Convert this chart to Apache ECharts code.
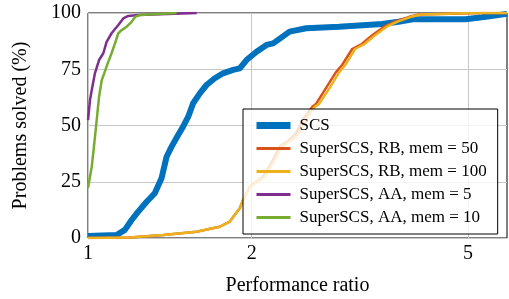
<!DOCTYPE html>
<html>
<head>
<meta charset="utf-8">
<script src="https://cdn.jsdelivr.net/npm/echarts@6/dist/echarts.min.js"></script>
<style>
  html, body { margin: 0; padding: 0; background: #fff; }
  #chart { width: 509px; height: 299px; }
</style>
</head>
<body>
<div id="chart"></div>
<script>
// performance ratio (x) / problems solved in % (y)
const scsRatio = [1.0, 1.129, 1.169, 1.203, 1.237, 1.282, 1.327, 1.366, 1.395, 1.425, 1.465, 1.496, 1.529, 1.561, 1.606, 1.652, 1.711, 1.772, 1.849, 1.902, 1.957, 2.042, 2.130, 2.191, 2.349, 2.520, 2.897, 3.476, 3.726, 3.956, 4.950, 5.309, 5.9];
const scsSolved = [0.9, 1.3, 3.6, 8.0, 11.7, 16.1, 19.9, 26.7, 36.1, 40.6, 45.8, 49.5, 53.9, 59.9, 64.3, 68.0, 71.0, 73.2, 74.7, 75.4, 79.1, 82.8, 85.8, 86.5, 91.7, 93.2, 93.9, 95.1, 96.1, 97.2, 97.2, 98.1, 99.6];

const rb50Ratio = [1.0, 1.194, 1.375, 1.583, 1.747, 1.823, 1.861, 1.902, 1.929, 1.984, 2.100, 2.191, 2.254, 2.349, 2.415, 2.482, 2.589, 2.626, 2.738, 2.855, 2.936, 3.062, 3.193, 3.329, 3.520, 3.679, 3.899, 4.066, 5.302, 5.9];
const rb50Solved = [0, 0.2, 1.3, 2.8, 5.0, 7.3, 10.2, 13.2, 16.9, 22.8, 27.2, 34.7, 40.6, 43.6, 46.5, 52.4, 58.4, 59.5, 66.5, 73.5, 77.0, 84.0, 86.3, 90.0, 94.2, 96.3, 98.3, 99.3, 100, 100];

const rb100Ratio = [1.0, 1.194, 1.375, 1.583, 1.747, 1.823, 1.861, 1.902, 1.929, 1.990, 2.110, 2.205, 2.270, 2.370, 2.440, 2.510, 2.615, 2.660, 2.780, 2.895, 2.975, 3.100, 3.230, 3.370, 3.560, 3.720, 3.930, 4.100, 5.091, 5.9];
const rb100Solved = [0, 0.2, 1.3, 2.8, 5.0, 7.3, 10.2, 13.2, 16.9, 22.8, 27.2, 34.7, 40.6, 43.6, 46.5, 52.4, 58.4, 59.5, 66.5, 73.5, 77.0, 84.0, 86.3, 90.0, 94.2, 96.3, 98.3, 99.3, 100, 100];

const aa5Ratio = [1.0, 1.0085, 1.016, 1.030, 1.048, 1.067, 1.082, 1.105, 1.137, 1.161, 1.186, 1.237, 1.585];
const aa5Solved = [52.4, 61.3, 65.8, 73.3, 79.1, 82.1, 87.2, 91.0, 94.7, 97.6, 98.7, 99.1, 100];

const aa10Ratio = [1.0, 1.016, 1.027, 1.0375, 1.048, 1.060, 1.071, 1.087, 1.105, 1.121, 1.137, 1.153, 1.178, 1.203, 1.223, 1.246, 1.455];
const aa10Solved = [22.2, 31.7, 42.1, 52.4, 62.8, 70.2, 73.2, 77.6, 82.1, 86.5, 91.0, 92.4, 93.9, 96.1, 98.4, 99.1, 100];

const seriesNames = ['SCS', 'SuperSCS, RB, mem = 50', 'SuperSCS, RB, mem = 100', 'SuperSCS, AA, mem = 5', 'SuperSCS, AA, mem = 10'];
const seriesColors = ['#0072BD', '#D95319', '#EDB120', '#7E2F8E', '#77AC30'];
const seriesWidths = [6, 2.5, 2.5, 2.5, 2.5];
const legendWidths = [7, 3, 3, 3, 3];
const xTicks = [1, 2, 5];

const xs = [scsRatio, rb50Ratio, rb100Ratio, aa5Ratio, aa10Ratio];
const ys = [scsSolved, rb50Solved, rb100Solved, aa5Solved, aa10Solved];

const font = 'Liberation Serif';
const chart = echarts.init(document.getElementById('chart'), null, { renderer: 'canvas' });

chart.setOption({
  animation: false,
  grid: {
    left: 88, right: 2, top: 13, bottom: 61,
    outerBoundsMode: 'none',
    show: true, borderColor: '#000', borderWidth: 1
  },
  legend: {
    orient: 'vertical',
    left: 243, top: 109,
    padding: [8, 11, 8, 10],
    itemGap: 6,
    itemWidth: 34,
    itemHeight: 14,
    backgroundColor: 'rgba(255,255,255,0.8)',
    borderColor: '#000',
    borderWidth: 1,
    borderRadius: 0,
    textStyle: { fontFamily: font, fontSize: 17, color: '#000', padding: [0, 0, 0, 4] },
    data: seriesNames.map((n, i) => ({
      name: n,
      itemStyle: { opacity: 0 },
      lineStyle: { width: legendWidths[i], color: seriesColors[i] }
    }))
  },
  xAxis: {
    type: 'log',
    min: 1, max: 5.9,
    name: 'Performance ratio',
    nameLocation: 'middle',
    nameGap: 38,
    nameTextStyle: { fontFamily: font, fontSize: 20, color: '#000' },
    axisLine: { show: false },
    axisTick: { show: false, customValues: xTicks },
    axisLabel: { customValues: xTicks, fontFamily: font, fontSize: 20, color: '#000', margin: 6 },
    splitLine: { show: true, lineStyle: { color: '#c8c8c8', width: 1 } }
  },
  yAxis: {
    type: 'value',
    min: 0, max: 100, interval: 25,
    name: 'Problems solved (%)',
    nameLocation: 'middle',
    nameGap: 57,
    nameTextStyle: { fontFamily: font, fontSize: 20, color: '#000' },
    axisLine: { show: false },
    axisTick: { show: false },
    axisLabel: { fontFamily: font, fontSize: 20, color: '#000', margin: 7 },
    splitLine: { show: true, lineStyle: { color: '#c8c8c8', width: 1 } }
  },
  series: seriesNames.map((n, i) => ({
    name: n,
    type: 'line',
    symbol: 'none',
    data: xs[i].map((x, k) => [x, ys[i][k]]),
    lineStyle: { color: seriesColors[i], width: seriesWidths[i] },
    itemStyle: { color: seriesColors[i] }
  }))
});
</script>
</body>
</html>
